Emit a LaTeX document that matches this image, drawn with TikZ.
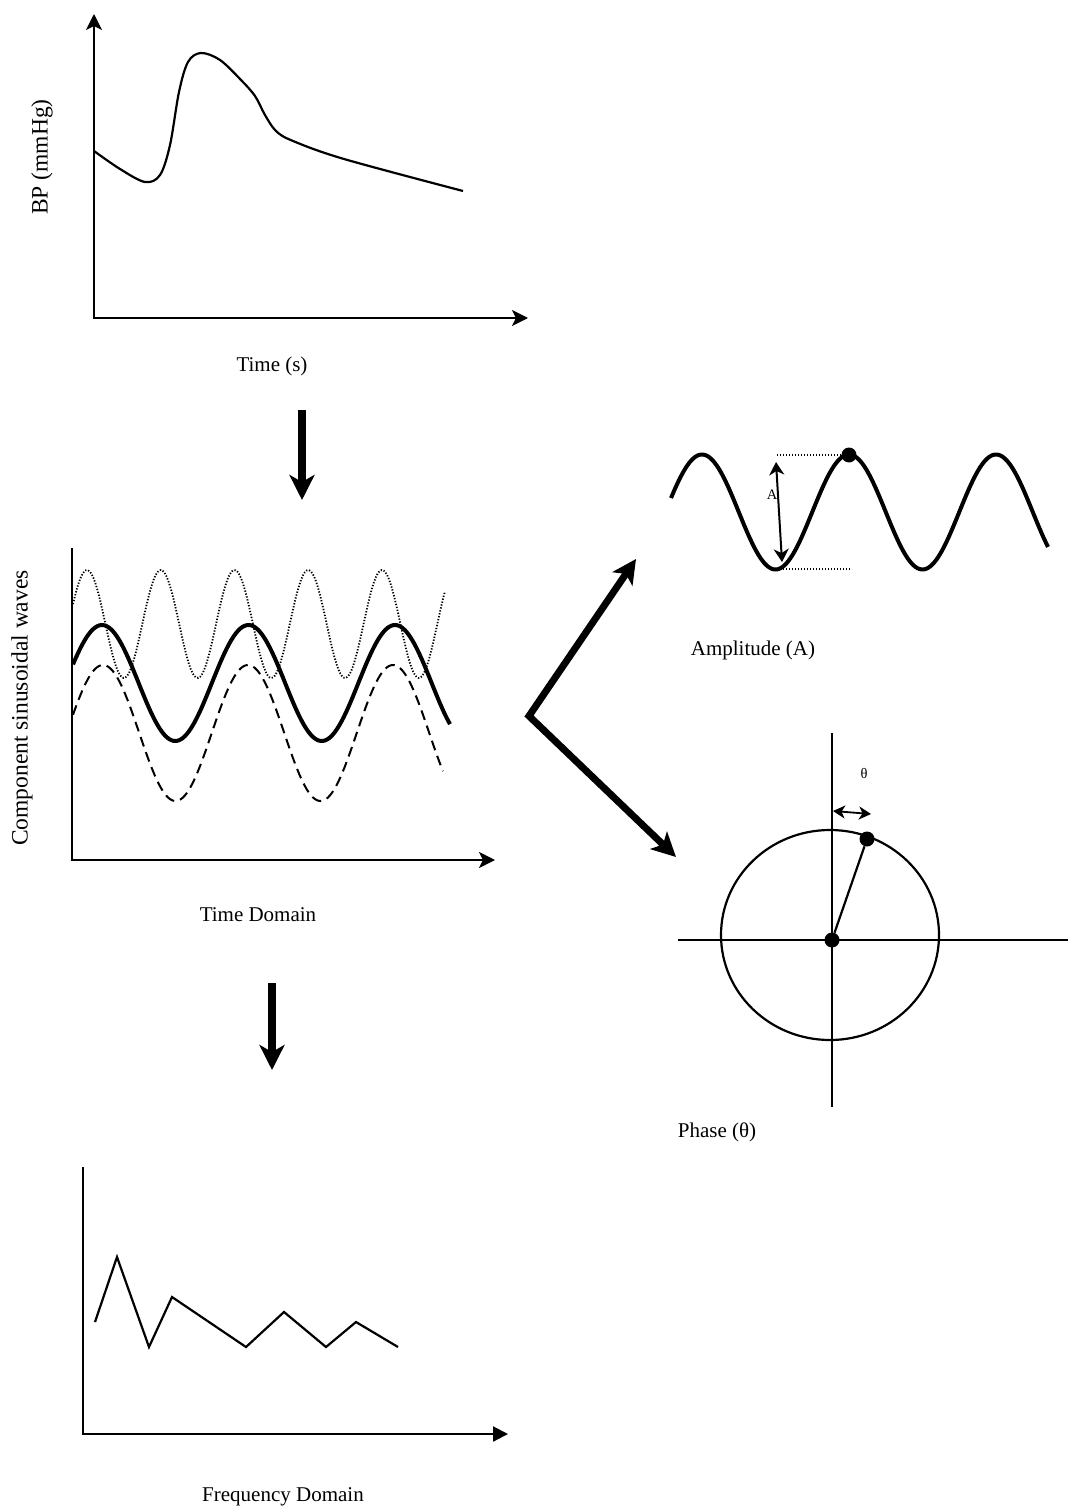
\documentclass[tikz,border=0pt]{standalone}
\usepackage{fontspec}
\setmainfont{Liberation Serif}
\usetikzlibrary{arrows.meta}
\begin{document}
\begin{tikzpicture}[x=1pt,y=-1pt,
  ax/.style={line width=2.2pt},
  axtip/.style={-{Stealth[length=16pt,width=16pt,inset=4pt]}},
  axtips/.style={{Stealth[length=16pt,width=16pt,inset=4pt]}-{Stealth[length=16pt,width=16pt,inset=4pt]}},
  lbl/.style={font=\fontsize{21}{24}\selectfont, inner sep=0pt},
  vlbl/.style={font=\fontsize{23.5}{26}\selectfont, inner sep=0pt, rotate=90},
  small/.style={font=\fontsize{14.5}{17}\selectfont, inner sep=0pt},
  bigarrow/.style={line width=7pt, {Stealth[length=24pt,width=24pt,inset=6pt]}-{Stealth[length=24pt,width=24pt,inset=6pt]}},
  downarrow/.style={line width=8pt, -{Stealth[length=25pt,width=25pt,inset=7pt]}},
  dot/.style={circle, fill=black, inner sep=0pt, minimum size=15pt},
  thin/.style={line width=2.2pt},
  thick wave/.style={line width=4pt},
  guide/.style={line width=1.6pt, dash pattern=on 1.3pt off 1.7pt},
  dblsmall/.style={line width=2pt, {Stealth[length=13pt,width=15pt,inset=4pt]}-{Stealth[length=13pt,width=15pt,inset=4pt]}},
]
\useasboundingbox (0,0) rectangle (1068,1511);

% ---------- top plot: BP ----------
\coordinate (t1top) at (94,14);
\coordinate (t1o) at (94,318);
\coordinate (t1right) at (528,318);
\draw[ax,axtips] (t1top) -- (t1o) -- (t1right);
\draw[thin, line join=round] plot[smooth, tension=0.55] coordinates {
  (94,151) (120,169) (145,182) (160,175) (170,145) (179,92) (188,62)
  (201,53) (220,60) (241,80) (255,96) (265,115) (276,131) (293,141)
  (344,159) (463,191)};
\node[lbl] (timelbl) at (272,366) {Time (s)};
\node[vlbl] (bplbl) at (42,157) {BP (mmHg)};

% ---------- arrow down 1 ----------
\coordinate (d1s) at (302,410);
\coordinate (d1e) at (302,500);
\draw[downarrow] (d1s) -- (d1e);

% ---------- time domain plot ----------
\coordinate (t2top) at (72,548);
\coordinate (t2o) at (72,860);
\coordinate (t2right) at (495,860);
\draw[ax,axtip] (t2top) -- (t2o) -- (t2right);
\draw[guide, line width=1.8pt] plot[domain=73:445, samples=200] (\x,{624-54*cos((\x-87)/73.75*360)});
\draw[thick wave] plot[domain=73:450, samples=200] (\x,{683-58*cos((\x-102)/146.5*360)});
\draw[line width=2pt, dash pattern=on 10pt off 6pt] plot[domain=73:443, samples=200] (\x,{733-68*cos((\x-103)/145*360)});
\node[vlbl] (complbl) at (22,708) {Component sinusoidal waves};
\node[lbl] (tdlbl) at (258,915) {Time Domain};

% ---------- V arrows ----------
\coordinate (vu) at (636,559);
\coordinate (v) at (529,716);
\coordinate (vd) at (676,857);
\draw[bigarrow] (vu) -- (v) -- (vd);

% ---------- amplitude ----------
\draw[thick wave] plot[domain=671:1048, samples=200] (\x,{512-57.5*cos((\x-702)/147*360)});
\node[dot] (pk) at (849,455) {};
\coordinate (gt) at (777,455);
\coordinate (gb1) at (783,569);
\coordinate (gb2) at (850,569);
\draw[guide] (gt) -- (pk.west);
\draw[guide] (gb1) -- (gb2);
\coordinate (aa) at (776,462);
\coordinate (ab) at (782,562);
\draw[dblsmall] (aa) -- (ab);
\node[small] (alab) at (772,495) {A};
\node[lbl] (amplbl) at (753,650) {Amplitude (A)};

% ---------- phase ----------
\coordinate (vt) at (832,733);
\coordinate (vb) at (832,1107);
\coordinate (hl) at (678,940);
\coordinate (hr) at (1068,940);
\draw[thin] (vt) -- (vb);
\draw[thin] (hl) -- (hr);
\draw[thin] (830,935) ellipse [x radius=109, y radius=105];
\node[dot] (o) at (832,940) {};
\node[dot] (p) at (867,839) {};
\draw[thin] (o) -- (p);
\coordinate (th1) at (833,811);
\coordinate (th2) at (871,814);
\draw[line width=1.8pt, {Stealth[length=12pt,width=13pt,inset=3.5pt]}-{Stealth[length=12pt,width=13pt,inset=3.5pt]}] (th1) -- (th2);
\node[small] (thlab) at (864,773) {θ};
\node[lbl] (phlbl) at (717,1132) {Phase (θ)};

% ---------- arrow down 2 ----------
\coordinate (d2s) at (272,983);
\coordinate (d2e) at (272,1070);
\draw[downarrow] (d2s) -- (d2e);

% ---------- frequency domain ----------
\coordinate (t3top) at (83,1167);
\coordinate (t3o) at (83,1434);
\coordinate (t3right) at (508,1434);
\draw[ax,-{Triangle[length=15pt,width=15pt]}] (t3top) -- (t3o) -- (t3right);
\draw[thin] plot coordinates {(95,1322) (117,1257) (149,1347) (172,1297) (246,1347) (284,1312) (326,1347) (356,1322) (398,1347)};
\node[lbl] (fdlbl) at (283,1497) {Frequency Domain};
\end{tikzpicture}
\end{document}
